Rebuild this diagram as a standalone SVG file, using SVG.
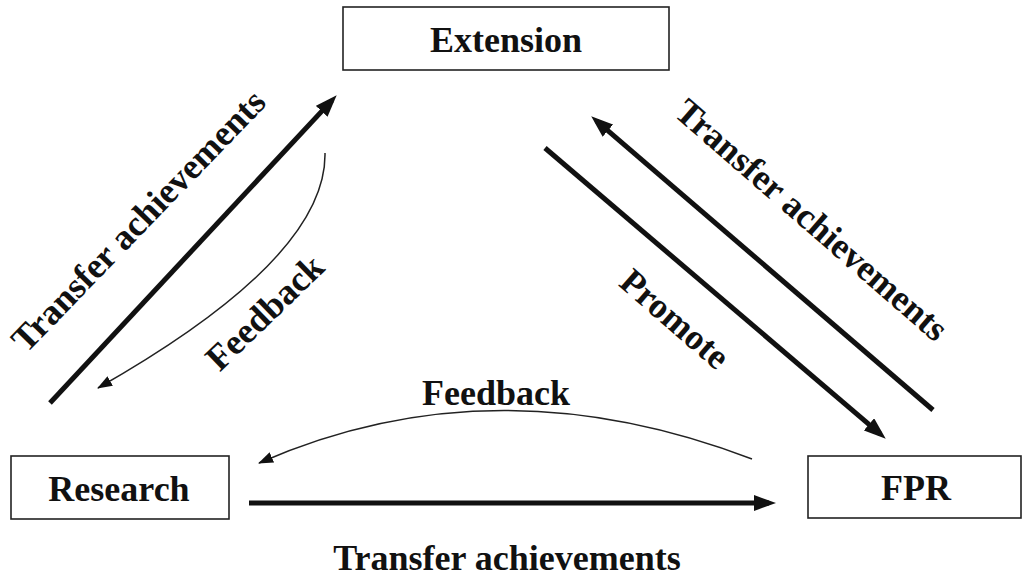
<svg xmlns="http://www.w3.org/2000/svg" width="1025" height="582" viewBox="0 0 1025 582">
  <style>
    .box { fill: #ffffff; stroke: #222; stroke-width: 1.6; }
    .label { font-family: "Liberation Serif", "Times New Roman", serif; font-weight: bold; font-size: 36px; fill: #111; text-anchor: middle; }
    .thick { fill: none; stroke: #111; stroke-width: 5; marker-end: url(#headThick); }
    .thin { fill: none; stroke: #222; stroke-width: 1.5; marker-end: url(#headThin); }
  </style>
  <defs>
    <marker id="headThick" markerUnits="userSpaceOnUse" markerWidth="22" markerHeight="16" viewBox="0 0 22 16" refX="15" refY="8" orient="auto">
      <path d="M0,0 L22,8 L0,16 z" fill="#111"/>
    </marker>
    <marker id="headThin" markerUnits="userSpaceOnUse" markerWidth="15" markerHeight="11" viewBox="0 0 15 11" refX="14" refY="5.5" orient="auto">
      <path d="M0,0 L15,5.5 L0,11 z" fill="#111"/>
    </marker>
  </defs>

  <!-- nodes -->
  <g id="extension">
    <rect class="box" x="343" y="7" width="326" height="63"/>
    <text class="label" x="506" y="52">Extension</text>
  </g>
  <g id="research">
    <rect class="box" x="11" y="456" width="218" height="63"/>
    <text class="label" x="119" y="501">Research</text>
  </g>
  <g id="fpr">
    <rect class="box" x="808" y="456" width="213" height="62"/>
    <text class="label" x="916" y="500">FPR</text>
  </g>

  <!-- connectors -->
  <g id="connectors">
    <!-- Research -> Extension -->
    <line class="thick" x1="50" y1="403" x2="331.9" y2="100.4"/>
    <!-- Extension -> Research (feedback) -->
    <path class="thin" d="M325,153 Q327,258 98,388"/>
    <!-- FPR -> Extension -->
    <line class="thick" x1="933" y1="410" x2="596.5" y2="120.9"/>
    <!-- Extension -> FPR (promote) -->
    <line class="thick" x1="545" y1="148" x2="880.4" y2="434.1"/>
    <!-- FPR -> Research (feedback) -->
    <path class="thin" d="M752,459 Q493,360 259,463"/>
    <!-- Research -> FPR -->
    <line class="thick" x1="249" y1="503" x2="769" y2="503"/>
  </g>

  <!-- connector labels -->
  <g id="edge-labels">
    <text class="label" transform="translate(147,229) rotate(-46)">Transfer achievements</text>
    <text class="label" transform="translate(273,321) rotate(-44)">Feedback</text>
    <text class="label" transform="translate(804,229) rotate(41)">Transfer achievements</text>
    <text class="label" transform="translate(667,328) rotate(41)">Promote</text>
    <text class="label" x="496" y="405">Feedback</text>
    <text class="label" x="507" y="570">Transfer achievements</text>
  </g>
</svg>
